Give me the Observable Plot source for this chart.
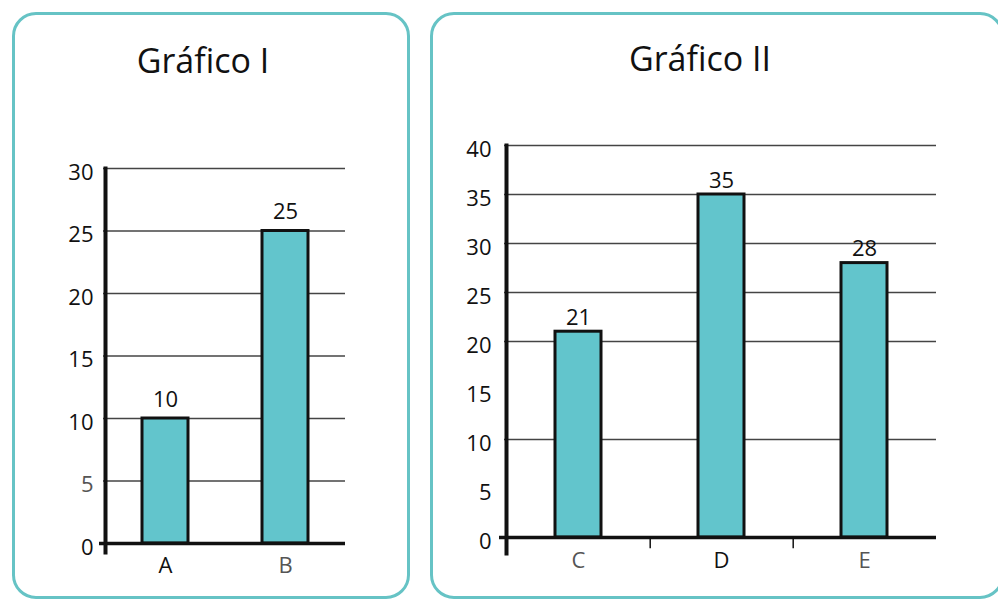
<!DOCTYPE html>
<html>
<head>
<meta charset="utf-8">
<script src="https://cdn.jsdelivr.net/npm/d3@7"></script>
<script src="https://cdn.jsdelivr.net/npm/@observablehq/plot@0.6"></script>
<style>
  html, body { margin: 0; padding: 0; background: #fff; }
  #page { position: relative; width: 998px; height: 601px; overflow: hidden; background: #fff; font-family: "Open Sans", sans-serif; }
  .panel { position: absolute; box-sizing: border-box; border: 3.5px solid #66c3c5; border-radius: 24px; background: #fff; }
  .title { position: absolute; height: 34px; line-height: 34px; font-size: 34px; color: #111; text-align: center; white-space: nowrap; }
  .chart { position: absolute; top: 0; }
  .chart svg { background: none !important; overflow: visible; }
</style>
</head>
<body>
<div id="page">
  <div class="panel" style="left:12px; top:12px; width:398px; height:587px;"></div>
  <div class="panel" style="left:430px; top:12px; width:574px; height:587px;"></div>
  <div class="title" style="left:103px; width:200px; top:43px;">Gráfico I</div>
  <div class="title" style="left:600px; width:200px; top:41px;">Gráfico II</div>
  <div class="chart" id="c1" style="left:0px;"></div>
  <div class="chart" id="c2" style="left:420px;"></div>
</div>
<script>
// ---- Data: Gráfico I ----
const categoriesI = ["A", "B"];
const valuesI = [10, 25];
const yTicksI = [0, 5, 10, 15, 20, 25, 30];
const gridI = [5, 10, 15, 20, 25, 30];
const grayTicksI = [5];
const grayCatsI = ["B"];

// ---- Data: Gráfico II ----
const categoriesII = ["C", "D", "E"];
const valuesII = [21, 35, 28];
const yTicksII = [0, 5, 10, 15, 20, 25, 30, 35, 40];
const gridII = [10, 20, 25, 30, 35, 40];
const grayCatsII = ["C", "E"];

const barFill = "#62c5cc";
const ink = "#111";
const gray = "#555";
const font = "Open Sans";

const dataI = categoriesI.map((c, i) => ({cat: c, value: valuesI[i]}));
const dataII = categoriesII.map((c, i) => ({cat: c, value: valuesII[i]}));

const chartI = Plot.plot({
  width: 420, height: 601,
  marginLeft: 105, marginRight: 75, marginTop: 168, marginBottom: 58,
  style: {fontFamily: font, background: "none", overflow: "visible"},
  x: {domain: categoriesI, paddingInner: 0.617, paddingOuter: 0.3085},
  y: {domain: [0, 30]},
  marks: [
    Plot.ruleY(gridI, {stroke: "#444", strokeWidth: 1.5, insetLeft: -2}),
    Plot.barY(dataI, {x: "cat", y: "value", fill: barFill, stroke: ink, strokeWidth: 3}),
    Plot.ruleY([0], {stroke: ink, strokeWidth: 3.5, insetLeft: -6}),
    Plot.frame({anchor: "left", stroke: ink, strokeWidth: 4, insetBottom: -9}),
    Plot.text(dataI, {x: "cat", y: "value", text: d => String(d.value), dy: -19, fontSize: 22, fill: ink}),
    Plot.axisY(yTicksI.filter(t => !grayTicksI.includes(t)), {tickSize: 0, tickPadding: 12, fontSize: 22, fill: ink, dy: 4, label: null}),
    Plot.axisY(grayTicksI, {tickSize: 0, tickPadding: 12, fontSize: 22, fill: gray, dy: 4, label: null}),
    Plot.axisX(categoriesI.filter(c => !grayCatsI.includes(c)), {tickSize: 0, tickPadding: 14, fontSize: 22, fill: ink, label: null}),
    Plot.axisX(grayCatsI, {tickSize: 0, tickPadding: 14, fontSize: 22, fill: gray, label: null})
  ]
});
document.getElementById("c1").appendChild(chartI);

const chartII = Plot.plot({
  width: 578, height: 601,
  marginLeft: 86, marginRight: 62, marginTop: 145, marginBottom: 64,
  style: {fontFamily: font, background: "none", overflow: "visible"},
  x: {domain: categoriesII, paddingInner: 0.679, paddingOuter: 0.3395},
  y: {domain: [0, 40]},
  marks: [
    Plot.ruleY(gridII, {stroke: "#444", strokeWidth: 1.5, insetLeft: -2}),
    Plot.barY(dataII, {x: "cat", y: "value", fill: barFill, stroke: ink, strokeWidth: 3}),
    Plot.ruleY([0], {stroke: ink, strokeWidth: 3.5, insetLeft: -7}),
    Plot.ruleX(categoriesII.slice(0, -1), {x: d => d, y1: 0, y2: -1.15, dx: 71.7, stroke: ink, strokeWidth: 1.5}),
    Plot.frame({anchor: "left", stroke: ink, strokeWidth: 4, insetBottom: -16}),
    Plot.text(dataII, {x: "cat", y: "value", text: d => String(d.value), dy: -14, fontSize: 22, fill: ink}),
    Plot.axisY(yTicksII, {tickSize: 0, tickPadding: 15, fontSize: 22, fill: ink, dy: 4, label: null}),
    Plot.axisX(categoriesII.filter(c => !grayCatsII.includes(c)), {tickSize: 0, tickPadding: 15, fontSize: 22, fill: ink, label: null}),
    Plot.axisX(grayCatsII, {tickSize: 0, tickPadding: 15, fontSize: 22, fill: gray, label: null})
  ]
});
document.getElementById("c2").appendChild(chartII);
</script>
</body>
</html>
